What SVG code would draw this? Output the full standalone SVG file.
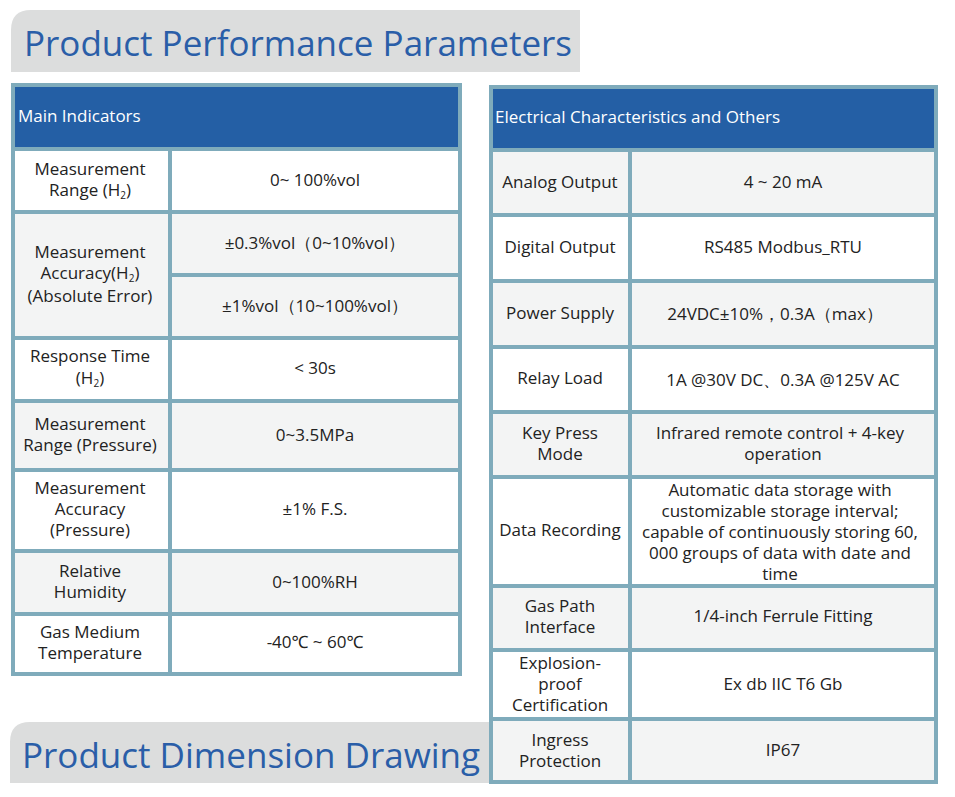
<svg xmlns="http://www.w3.org/2000/svg" width="955" height="797" viewBox="0 0 955 797">
<style>
text{font-family:"Open Sans","Noto Sans",sans-serif;fill:#222;font-size:17px;text-anchor:middle}
.t{font-size:35px;fill:#2a5ea8;text-anchor:start}
.h{fill:#fff;text-anchor:start;font-size:17px}
.b{fill:#7fabbb}.w{fill:#fff}.g{fill:#f3f4f4}.hd{fill:#245fa5}
.ban{fill:#dcdddd}
</style>
<rect width="955" height="797" fill="#fff"/>
<g id="title1"><path class="ban" d="M11,30 Q11,10 31,10 H580 V72 H11 Z"/><text class="t" x="24" y="56">Product Performance Parameters</text></g>
<g id="title2"><path class="ban" d="M10,742 Q10,722 30,722 H496 V783 H10 Z"/><text class="t" x="22" y="768">Product Dimension Drawing</text></g>
<g id="left">
<rect class="b" x="11" y="83" width="451" height="593"/>
<rect class="hd" x="15" y="87" width="443" height="60"/>
<text class="h" x="18" y="122">Main Indicators</text>
<rect class="w" x="15" y="151" width="153" height="59"/><rect class="w" x="172" y="151" width="286" height="59"/>
<text x="90" y="175">Measurement</text><text x="90" y="196">Range (H<tspan font-size="10" dy="3">2</tspan><tspan dy="-3">)</tspan></text>
<text x="315" y="186">0~ 100%vol</text>
<rect class="g" x="15" y="214" width="153" height="122"/><rect class="g" x="172" y="214" width="286" height="59"/><rect class="g" x="172" y="277" width="286" height="59"/>
<text x="90" y="258">Measurement</text><text x="90" y="279">Accuracy(H<tspan font-size="10" dy="3">2</tspan><tspan dy="-3">)</tspan></text><text x="90" y="302">(Absolute Error)</text>
<text x="315" y="249">±0.3%vol（0~10%vol）</text><text x="315" y="312">±1%vol（10~100%vol）</text>
<rect class="w" x="15" y="340" width="153" height="59"/><rect class="w" x="172" y="340" width="286" height="59"/>
<text x="90" y="362">Response Time</text><text x="90" y="384">(H<tspan font-size="10" dy="3">2</tspan><tspan dy="-3">)</tspan></text><text x="315" y="374">&lt; 30s</text>
<rect class="g" x="15" y="403" width="153" height="65"/><rect class="g" x="172" y="403" width="286" height="65"/>
<text x="90" y="430">Measurement</text><text x="90" y="451">Range (Pressure)</text><text x="315" y="441">0~3.5MPa</text>
<rect class="w" x="15" y="472" width="153" height="77"/><rect class="w" x="172" y="472" width="286" height="77"/>
<text x="90" y="494">Measurement</text><text x="90" y="515">Accuracy</text><text x="90" y="536">(Pressure)</text><text x="315" y="515">±1% F.S.</text>
<rect class="g" x="15" y="553" width="153" height="59"/><rect class="g" x="172" y="553" width="286" height="59"/>
<text x="90" y="577">Relative</text><text x="90" y="598">Humidity</text><text x="315" y="588">0~100%RH</text>
<rect class="w" x="15" y="616" width="153" height="56"/><rect class="w" x="172" y="616" width="286" height="56"/>
<text x="90" y="638">Gas Medium</text><text x="90" y="659">Temperature</text><text x="315" y="648">-40℃ ~ 60℃</text>
</g>
<g id="right">
<rect class="b" x="489" y="85" width="449" height="699"/>
<rect class="hd" x="493" y="89" width="441" height="59"/>
<text class="h" x="495" y="123">Electrical Characteristics and Others</text>
<rect class="g" x="493" y="152" width="135" height="61"/><rect class="g" x="632" y="152" width="302" height="61"/>
<text x="560" y="188">Analog Output</text><text x="783" y="188">4 ~ 20 mA</text>
<rect class="w" x="493" y="217" width="135" height="62"/><rect class="w" x="632" y="217" width="302" height="62"/>
<text x="560" y="253">Digital Output</text><text x="783" y="253">RS485 Modbus_RTU</text>
<rect class="g" x="493" y="283" width="135" height="62"/><rect class="g" x="632" y="283" width="302" height="62"/>
<text x="560" y="319">Power Supply</text><text x="775" y="320">24VDC±10%，0.3A（max）</text>
<rect class="w" x="493" y="349" width="135" height="61"/><rect class="w" x="632" y="349" width="302" height="61"/>
<text x="560" y="384">Relay Load</text><text x="783" y="386">1A @30V DC、0.3A @125V AC</text>
<rect class="g" x="493" y="414" width="135" height="61"/><rect class="g" x="632" y="414" width="302" height="61"/>
<text x="560" y="439">Key Press</text><text x="560" y="460">Mode</text><text x="780" y="439">Infrared remote control + 4-key</text><text x="783" y="460">operation</text>
<rect class="w" x="493" y="479" width="135" height="105"/><rect class="w" x="632" y="479" width="302" height="105"/>
<text x="560" y="536">Data Recording</text>
<text x="780" y="496">Automatic data storage with</text><text x="780" y="517">customizable storage interval;</text><text x="780" y="538">capable of continuously storing 60,</text><text x="780" y="559">000 groups of data with date and</text><text x="780" y="580">time</text>
<rect class="g" x="493" y="588" width="135" height="60"/><rect class="g" x="632" y="588" width="302" height="60"/>
<text x="560" y="612">Gas Path</text><text x="560" y="633">Interface</text><text x="783" y="622">1/4-inch Ferrule Fitting</text>
<rect class="w" x="493" y="652" width="135" height="65"/><rect class="w" x="632" y="652" width="302" height="65"/>
<text x="560" y="669">Explosion-</text><text x="560" y="690">proof</text><text x="560" y="711">Certification</text><text x="783" y="690">Ex db IIC T6 Gb</text>
<rect class="g" x="493" y="721" width="135" height="59"/><rect class="g" x="632" y="721" width="302" height="59"/>
<text x="560" y="746">Ingress</text><text x="560" y="767">Protection</text><text x="783" y="756">IP67</text>
</g>
</svg>
